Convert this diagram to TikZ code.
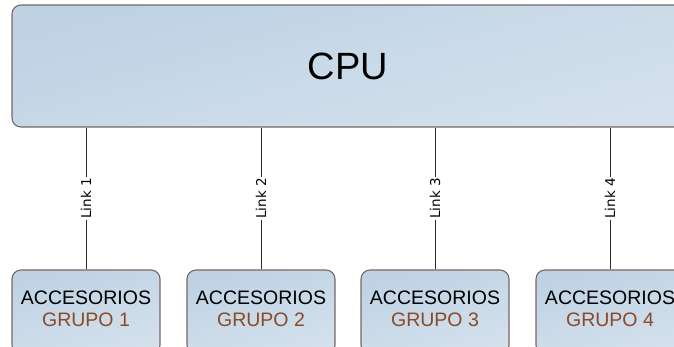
\documentclass[tikz,border=0pt]{standalone}
\usepackage{fontspec}
\setmainfont{Liberation Sans}
\newfontfamily\linkfont{DejaVu Sans}
\definecolor{boxedge}{RGB}{118,104,100}
\definecolor{boxtop}{RGB}{190,210,228}
\definecolor{boxbot}{RGB}{212,225,236}
\definecolor{grupo}{RGB}{140,74,36}
\definecolor{wire}{RGB}{40,40,40}
\tikzset{
  x=1pt, y=1pt,
  unitbox/.style={draw=boxedge, line width=1.1pt, rounded corners=9pt,
    top color=boxtop, bottom color=boxbot, shading angle=15,
    inner sep=0pt},
  grupobox/.style={unitbox, minimum width=148pt, minimum height=84pt},
  grupotext/.style={align=center, inner sep=0pt,
    font=\fontsize{19.5}{22}\selectfont},
  linkwire/.style={draw=wire, line width=0.9pt},
  linklabel/.style={rotate=90, fill=white, inner sep=1.5pt,
    font=\linkfont\fontsize{13.5}{13.5}\selectfont}
}
\begin{document}
\begin{tikzpicture}
\useasboundingbox (0,0) rectangle (674,-346);
\clip (0,0) rectangle (674,-346);
% processor block
\node[unitbox, minimum width=672pt, minimum height=122pt] (cpu) at (348,-66) {};
\node[font=\fontsize{38}{38}\selectfont] (cputxt) at (cpu.center) {CPU};
% accessory groups
\foreach \i/\x in {1/86, 2/261, 3/435, 4/610}{
  \node[grupobox] (g\i) at (\x,-312) {};
  \node[grupotext] (t\i) at (\x,-309)
    {ACCESORIOS\\\textcolor{grupo}{GRUPO \i}};
  \draw[linkwire] (g\i.north) -- (g\i.north |- cpu.south)
    node[linklabel, pos=0.5] (l\i) {Link \i};
}
\end{tikzpicture}
\end{document}
